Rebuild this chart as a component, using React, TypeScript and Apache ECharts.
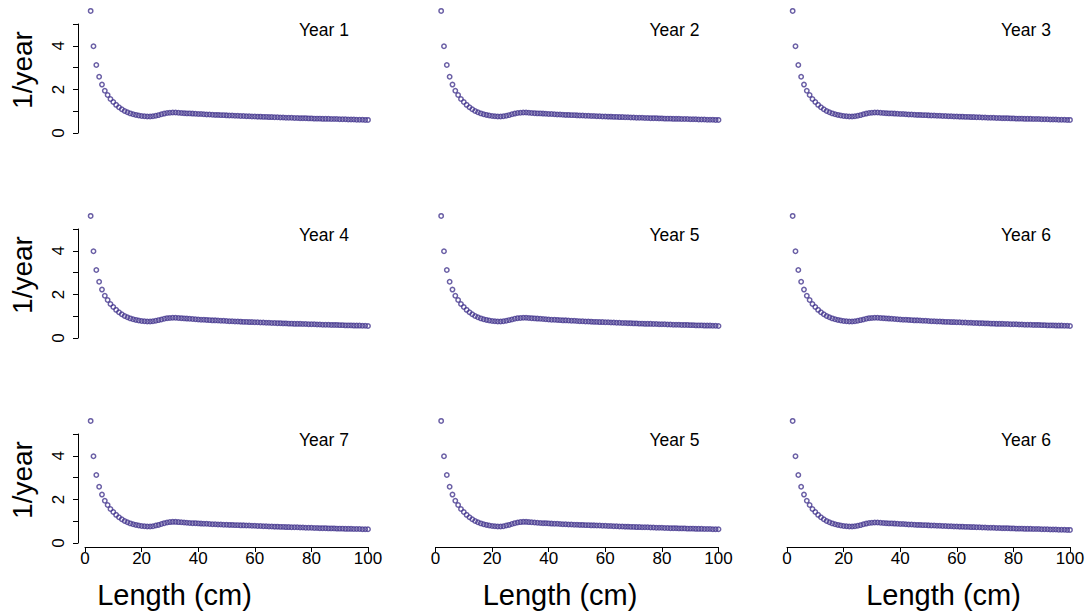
import React, { useEffect, useRef } from "react";
import * as echarts from "echarts";

// Length bins (cm): 2..100
const lengthBins: number[] = Array.from({ length: 99 }, (_, i) => i + 2);

// Shared steep early part, lengths 2..24 (1/year)
const earlyRate: number[] = [
  5.6, 3.98, 3.12, 2.58, 2.22, 1.94, 1.74, 1.56, 1.42, 1.29, 1.18, 1.09, 1.01,
  0.95, 0.9, 0.86, 0.83, 0.8, 0.78, 0.77, 0.76, 0.76, 0.77,
];

// Tails, lengths 25..100
const tailA: number[] = [
  0.79, 0.82, 0.86, 0.89, 0.92, 0.93,
  0.94, 0.94, 0.93, 0.92, 0.91, 0.9, 0.9, 0.89, 0.88, 0.87,
  0.87, 0.86, 0.85, 0.85, 0.84, 0.83, 0.83, 0.82, 0.82, 0.81,
  0.8, 0.8, 0.79, 0.79, 0.78, 0.78, 0.77, 0.77, 0.76, 0.76,
  0.75, 0.75, 0.74, 0.74, 0.73, 0.73, 0.72, 0.72, 0.71, 0.71,
  0.7, 0.7, 0.7, 0.69, 0.69, 0.68, 0.68, 0.68, 0.67, 0.67,
  0.66, 0.66, 0.66, 0.65, 0.65, 0.65, 0.64, 0.64, 0.64, 0.63,
  0.63, 0.63, 0.62, 0.62, 0.62, 0.61, 0.61, 0.61, 0.6, 0.6,
];
const tailB: number[] = [
  0.79, 0.82, 0.85, 0.88, 0.91, 0.92,
  0.93, 0.93, 0.92, 0.91, 0.9, 0.89, 0.88, 0.87, 0.86, 0.85,
  0.84, 0.84, 0.83, 0.82, 0.81, 0.81, 0.8, 0.79, 0.79, 0.78,
  0.77, 0.77, 0.76, 0.76, 0.75, 0.74, 0.74, 0.73, 0.73, 0.72,
  0.72, 0.71, 0.71, 0.7, 0.7, 0.69, 0.69, 0.68, 0.68, 0.67,
  0.67, 0.66, 0.66, 0.65, 0.65, 0.65, 0.64, 0.64, 0.63, 0.63,
  0.63, 0.62, 0.62, 0.61, 0.61, 0.61, 0.6, 0.6, 0.6, 0.59,
  0.59, 0.58, 0.58, 0.58, 0.57, 0.57, 0.57, 0.56, 0.56, 0.55,
];
const tailC: number[] = [
  0.8, 0.83, 0.87, 0.91, 0.94, 0.96,
  0.97, 0.97, 0.96, 0.95, 0.94, 0.93, 0.92, 0.91, 0.91, 0.9,
  0.89, 0.88, 0.88, 0.87, 0.86, 0.86, 0.85, 0.85, 0.84, 0.84,
  0.83, 0.83, 0.82, 0.82, 0.81, 0.81, 0.8, 0.8, 0.79, 0.79,
  0.78, 0.78, 0.77, 0.77, 0.76, 0.76, 0.75, 0.75, 0.74, 0.74,
  0.73, 0.73, 0.72, 0.72, 0.72, 0.71, 0.71, 0.7, 0.7, 0.7,
  0.69, 0.69, 0.68, 0.68, 0.68, 0.67, 0.67, 0.67, 0.66, 0.66,
  0.66, 0.65, 0.65, 0.65, 0.64, 0.64, 0.64, 0.63, 0.63, 0.63,
];

const panelTitles: string[] = [
  "Year 1", "Year 2", "Year 3",
  "Year 4", "Year 5", "Year 6",
  "Year 7", "Year 5", "Year 6",
];
const panelCurve: string[] = ["A", "A", "A", "B", "B", "B", "C", "C", "A"];

const yTicks: number[] = [0, 1, 2, 3, 4, 5];
const xTicks: number[] = [0, 20, 40, 60, 80, 100];

const yLabel = "1/year";
const xLabel = "Length (cm)";

const curves: Record<string, number[]> = {
  A: earlyRate.concat(tailA),
  B: earlyRate.concat(tailB),
  C: earlyRate.concat(tailC),
};

const FONT = "'Liberation Sans', Arial, Helvetica, sans-serif";
const COLOR = "#45378F";

export default function App() {
  const ref = useRef<HTMLDivElement>(null);

  useEffect(() => {
    if (!ref.current) return;
    const chart = echarts.init(ref.current, undefined, { renderer: "svg" });

    const colLeft = [85, 435.5, 787];
    const rowTop = [24, 229, 434];
    const gw = 283;
    const gh = 109;

    const grids: any[] = [];
    const xAxes: any[] = [];
    const yAxes: any[] = [];
    const series: any[] = [];
    const graphics: any[] = [];

    for (let r = 0; r < 3; r++) {
      for (let c = 0; c < 3; c++) {
        const i = r * 3 + c;
        grids.push({ left: colLeft[c], top: rowTop[r], width: gw, height: gh });
        xAxes.push({
          gridIndex: i,
          type: "value",
          min: xTicks[0],
          max: xTicks[xTicks.length - 1],
          interval: 20,
          show: r === 2,
          position: "bottom",
          offset: 4,
          splitLine: { show: false },
          axisLine: { show: true, onZero: false, lineStyle: { color: "#000", width: 1 } },
          axisTick: { show: true, length: 5, lineStyle: { color: "#000" } },
          axisLabel: {
            show: true,
            margin: 3,
            color: "#000",
            fontSize: 17,
            fontFamily: FONT,
            showMinLabel: true,
            showMaxLabel: true,
          },
        });
        yAxes.push({
          gridIndex: i,
          type: "value",
          min: yTicks[0],
          max: yTicks[yTicks.length - 1],
          interval: 1,
          show: c === 0,
          position: "left",
          offset: 7,
          splitLine: { show: false },
          axisLine: { show: true, onZero: false, lineStyle: { color: "#000", width: 1 } },
          axisTick: { show: true, length: 5, lineStyle: { color: "#000" } },
          axisLabel: {
            show: true,
            rotate: 90,
            margin: 11,
            color: "#000",
            fontSize: 17,
            fontFamily: FONT,
            formatter: (v: number) => (v % 2 === 0 ? String(v) : ""),
          },
        });
        const ys = curves[panelCurve[i]];
        series.push({
          type: "scatter",
          xAxisIndex: i,
          yAxisIndex: i,
          clip: false,
          symbol: "circle",
          symbolSize: 4.4,
          itemStyle: {
            color: "rgba(0,0,0,0)",
            borderColor: COLOR,
            borderWidth: 1.5,
          },
          data: lengthBins.map((x, k) => [x, ys[k]]),
        });
        graphics.push({
          type: "text",
          x: colLeft[c] + 264,
          y: rowTop[r] + 6,
          style: {
            text: panelTitles[i],
            fontSize: 17.5,
            fontFamily: FONT,
            fill: "#000",
            align: "right",
            verticalAlign: "middle",
          },
        });
      }
      graphics.push({
        type: "text",
        x: 22,
        y: rowTop[r] + 46,
        rotation: Math.PI / 2,
        style: {
          text: yLabel,
          fontSize: 28,
          fontFamily: FONT,
          fill: "#000",
          align: "center",
          verticalAlign: "middle",
        },
      });
    }

    const xLabelCenters = [174.5, 560, 943.5];
    for (let c = 0; c < 3; c++) {
      graphics.push({
        type: "text",
        x: xLabelCenters[c],
        y: 595,
        style: {
          text: xLabel,
          fontSize: 29,
          fontFamily: FONT,
          fill: "#000",
          align: "center",
          verticalAlign: "middle",
        },
      });
    }

    chart.setOption({
      animation: false,
      backgroundColor: "#fff",
      grid: grids,
      xAxis: xAxes,
      yAxis: yAxes,
      series,
      graphic: graphics,
    });

    return () => chart.dispose();
  }, []);

  return (
    <div
      ref={ref}
      style={{ position: "fixed", left: 0, top: 0, width: 1090, height: 616 }}
    />
  );
}
